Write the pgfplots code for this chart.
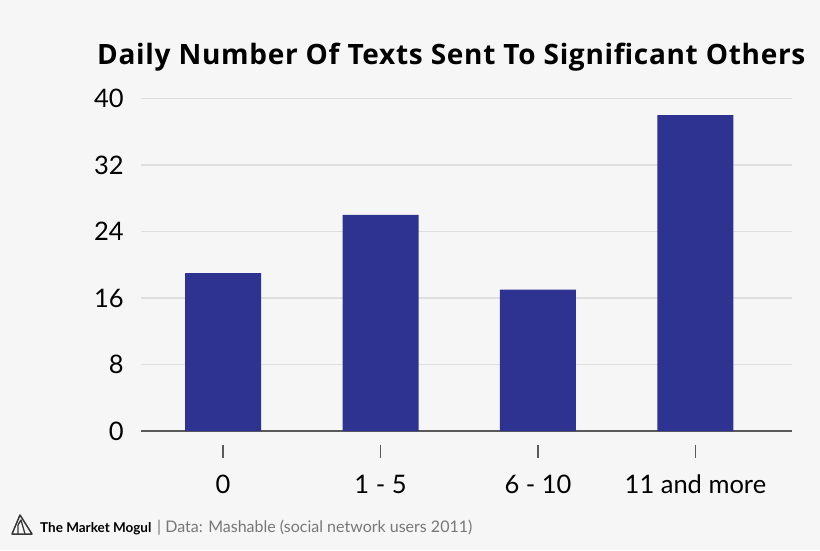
\documentclass[border=0pt]{standalone}
\usepackage{fontspec}
\setmainfont{Lato}
\newfontfamily\titlefont[LetterSpace=2.5]{Open Sans}
\usepackage{pgfplots}
\pgfplotsset{compat=1.18}
\definecolor{bg}{HTML}{F6F6F6}
\definecolor{bar}{HTML}{2E3391}
\definecolor{grid}{HTML}{DEDEDE}
\definecolor{axisc}{HTML}{5A5A5A}
\definecolor{foot}{HTML}{777777}
\begin{document}
\begin{tikzpicture}[x=1pt,y=1pt]
\fill[bg] (0,0) rectangle (820,550);
\useasboundingbox (0,0) rectangle (820,550);
\begin{axis}[
  at={(141pt,119pt)}, anchor=south west,
  scale only axis, width=651pt, height=332.5pt,
  xmin=-0.521, xmax=3.613, ymin=0, ymax=40,
  axis x line=bottom, axis y line=left,
  x axis line style={-, draw=axisc, line width=1.8pt},
  y axis line style={draw=none},
  xtick={0,1,2,3},
  xticklabels={0,1 - 5,6 - 10,11 and more},
  ytick={0,8,16,24,32,40},
  major tick style={draw=none},
  ymajorgrids, grid style={draw=grid, line width=1.2pt},
  /pgf/number format/assume math mode=true,
  tick label style={font=\fontsize{25.5}{28}\selectfont, text=black, inner sep=0pt},
  yticklabel style={anchor=east},
  yticklabel shift=15pt,
  xticklabel style={anchor=base},
  xticklabel shift=60.5pt,
  clip=false,
]
\addplot[ybar, bar width=76pt, fill=bar, draw=none] coordinates {(0,19) (1,26) (2,17) (3,38)};
\pgfplotsinvokeforeach{0,1,2,3}{
  \draw[axisc, line width=1.3pt] ([yshift=-14pt]axis cs:#1,0) -- ([yshift=-27pt]axis cs:#1,0);
}
\end{axis}
\node[anchor=base west, inner sep=0pt] at (97,485.5) {\titlefont\bfseries\fontsize{28}{30}\selectfont Daily Number Of Texts Sent To Significant Others};
% logo
\draw[axisc!60!black, line width=1.5pt, line join=round] (12,16) -- (20,35) -- (32,16) -- cycle;
\draw[axisc!60!black, line width=1.3pt, line join=round] (18,16) -- (18,25) -- (21,30) -- (25,16);
\node[anchor=base west, inner sep=0pt] at (40,18) {\fontsize{13.5}{16}\selectfont\bfseries The Market Mogul};
\node[anchor=base west, inner sep=0pt, text=foot] at (157,18) {\fontsize{16}{18}\selectfont | Data: Mashable (social network users 2011)};
\end{tikzpicture}
\end{document}
